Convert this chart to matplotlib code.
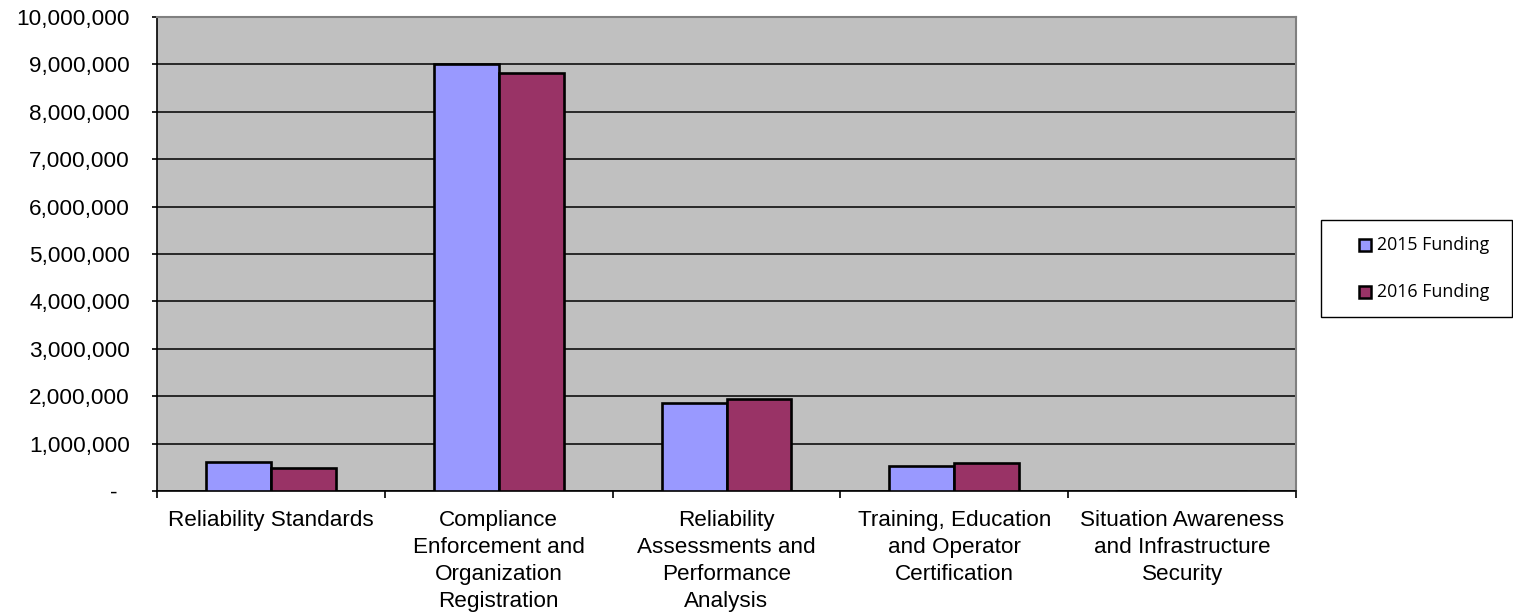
import matplotlib
matplotlib.use("Agg")
import matplotlib.pyplot as plt
import numpy as np
from matplotlib.patches import Rectangle
from matplotlib.ticker import FuncFormatter

categories = [
    "Reliability Standards",
    "Compliance\nEnforcement and\nOrganization\nRegistration",
    "Reliability\nAssessments and\nPerformance\nAnalysis",
    "Training, Education\nand Operator\nCertification",
    "Situation Awareness\nand Infrastructure\nSecurity",
]
funding_2015 = [610000, 9000000, 1865000, 530000, 0]
funding_2016 = [490000, 8810000, 1940000, 600000, 0]
series_names = ["2015 Funding", "2016 Funding"]
colors = ["#9999FF", "#993366"]

W, H = 1513, 616
fig = plt.figure(figsize=(W/100, H/100), dpi=100)
ax = fig.add_axes([157/W, 1-491/H, (1296-157)/W, (491-17)/H])
ax.set_facecolor("#C0C0C0")

x = np.arange(len(categories))
w = 0.285
ax.bar(x - w/2, funding_2015, w, color=colors[0], edgecolor="black", linewidth=1.9, zorder=3)
ax.bar(x + w/2, funding_2016, w, color=colors[1], edgecolor="black", linewidth=1.9, zorder=3)

ax.set_xlim(-0.5, len(categories) - 0.5)
ax.set_ylim(0, 10000000)
ax.set_yticks(np.arange(0, 10000001, 1000000))
ax.yaxis.set_major_formatter(FuncFormatter(lambda v, p: "-  " if v == 0 else f"{int(v):,}"))
ax.yaxis.grid(True, color="black", linewidth=1.1, zorder=1)
ax.set_axisbelow(True)

ax.set_xticks(np.arange(-0.5, len(categories)), minor=False)
ax.set_xticklabels([])
ax.set_xticks(x, minor=True)
ax.set_xticklabels(categories, minor=True, fontsize=16.2, family="Liberation Sans", linespacing=1.37)
ax.tick_params(axis="x", which="minor", length=0, pad=14)
ax.tick_params(axis="x", which="major", length=5, width=1.2, direction="out")
ax.tick_params(axis="y", length=3.6, width=1.2, direction="out", pad=16)
for lab in ax.get_yticklabels():
    lab.set_fontfamily("Liberation Sans")
    lab.set_fontsize(16.2)

for s in ["top", "right"]:
    ax.spines[s].set_color("#808080")
    ax.spines[s].set_linewidth(1.5)
for s in ["left", "bottom"]:
    ax.spines[s].set_color("black")
    ax.spines[s].set_linewidth(1.2)

# legend drawn in figure pixel coordinates
def fx(px):
    return px / W
def fy(py):
    return 1 - py / H

fig.patches.append(Rectangle((fx(1321), fy(317)), fx(1512) - fx(1321), fy(220) - fy(317),
                             transform=fig.transFigure, facecolor="white", edgecolor="black",
                             linewidth=1.0))
for name, c, yc in zip(series_names, colors, [245, 292]):
    fig.patches.append(Rectangle((fx(1359), fy(yc + 6)), fx(1371) - fx(1359), fy(yc - 6) - fy(yc + 6),
                                 transform=fig.transFigure, facecolor=c, edgecolor="black",
                                 linewidth=1.8))
    fig.text(fx(1377), fy(yc), name, fontsize=12.8, family="Open Sans",
             ha="left", va="center")

fig.savefig("out.png", dpi=100)
